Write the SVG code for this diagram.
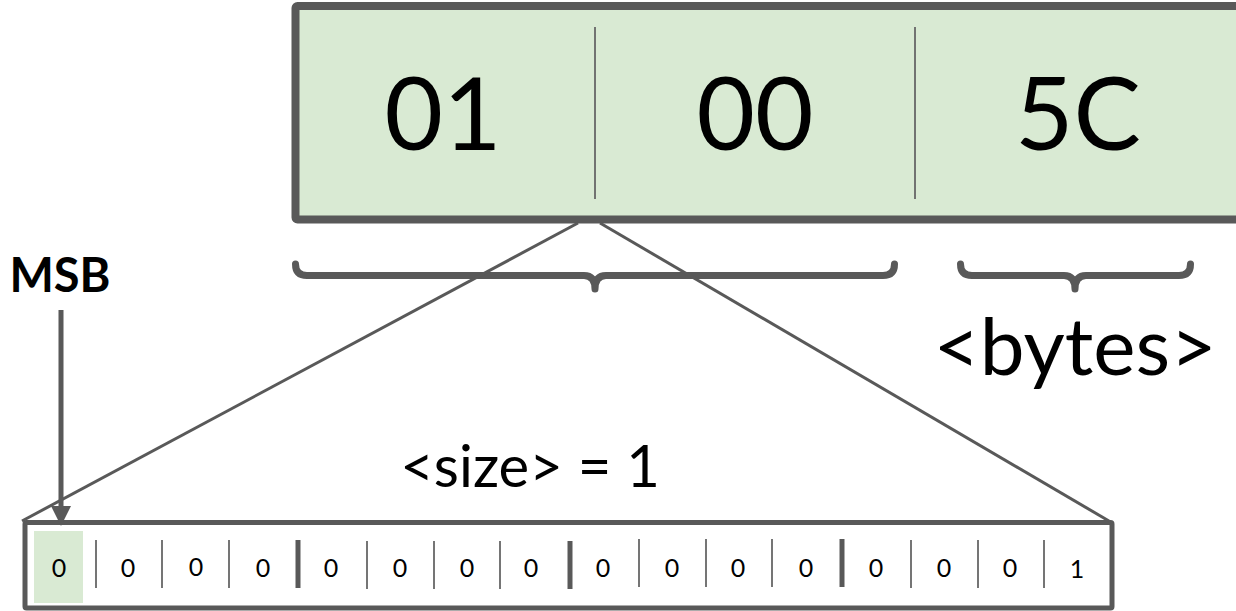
<svg xmlns="http://www.w3.org/2000/svg" width="1236" height="611" viewBox="0 0 1236 611">
<style>
.big{font-family:Lato,"Liberation Sans",sans-serif;font-size:101px;fill:#000;text-anchor:middle}
.bit{font-family:Lato,"Liberation Sans",sans-serif;font-size:25px;fill:#000;text-anchor:middle}
.lbl{font-family:Lato,"Liberation Sans",sans-serif;fill:#000}
.box{stroke:#595959;fill:none;stroke-linejoin:round}
.div{stroke:#666;stroke-width:1.8}
.thick{stroke:#595959;stroke-width:5}
.brace{stroke:#595959;stroke-width:7;fill:none;stroke-linecap:round;stroke-linejoin:round}
.conn{stroke:#595959;stroke-width:3;fill:none}
</style>
<defs>
<marker id="ah" markerWidth="4" markerHeight="4" refX="2" refY="2" orient="auto" markerUnits="strokeWidth" viewBox="0 0 4 4">
<path d="M0,0 L4,2 L0,4 Z" fill="#595959"/>
</marker>
</defs>
<g id="bytes-box">
<rect x="295.5" y="6" width="950" height="213.5" rx="2" fill="#d9ead3" stroke="#595959" stroke-width="8"/>
<line class="div" x1="595" y1="27" x2="595" y2="199"/>
<line class="div" x1="915" y1="27" x2="915" y2="199"/>
<text class="big" x="443" y="150">01</text>
<text class="big" x="755" y="150">00</text>
<text class="big" x="1078" y="150">5C</text>
</g>
<g id="brace-size">
<path class="brace" d="M295.5,264 Q295.5,275.5 307,275.5 L584,275.5 Q595,275.5 595,289 Q595,275.5 606,275.5 L883,275.5 Q894.5,275.5 894.5,264"/>
</g>
<g id="brace-bytes">
<path class="brace" d="M960.5,264 Q960.5,275.5 972,275.5 L1064,275.5 Q1075,275.5 1075,289 Q1075,275.5 1086,275.5 L1179,275.5 Q1190.5,275.5 1190.5,264"/>
</g>
<g id="label-bytes"><text class="lbl" x="1075" y="375" font-size="80" text-anchor="middle">&lt;bytes&gt;</text></g>
<g id="label-size"><text class="lbl" x="530" y="487" font-size="58" text-anchor="middle">&lt;size&gt; = 1</text></g>
<g id="label-msb"><text class="lbl" x="60" y="292" font-size="47" font-weight="bold" text-anchor="middle">MSB</text></g>
<g id="bits-box">
<rect x="34" y="531" width="49" height="72" fill="#d9ead3"/>
<rect class="box" x="25" y="522.5" width="1087" height="85.5" rx="1.5" stroke-width="5"/>
<line class="div" x1="96" y1="540" x2="96" y2="588"/>
<line class="div" x1="162" y1="540" x2="162" y2="588"/>
<line class="div" x1="229" y1="540" x2="229" y2="588"/>
<line class="thick" x1="298" y1="540" x2="298" y2="588"/>
<line class="div" x1="367" y1="541" x2="367" y2="589"/>
<line class="div" x1="434" y1="541" x2="434" y2="589"/>
<line class="div" x1="500" y1="541" x2="500" y2="589"/>
<line class="thick" x1="570" y1="541" x2="570" y2="589"/>
<line class="div" x1="639" y1="539" x2="639" y2="587"/>
<line class="div" x1="706" y1="539" x2="706" y2="587"/>
<line class="div" x1="772" y1="539" x2="772" y2="587"/>
<line class="thick" x1="842" y1="539" x2="842" y2="587"/>
<line class="div" x1="911" y1="540" x2="911" y2="588"/>
<line class="div" x1="978" y1="540" x2="978" y2="588"/>
<line class="div" x1="1044" y1="540" x2="1044" y2="588"/>
<text class="bit" x="59" y="577">0</text>
<text class="bit" x="128" y="577">0</text>
<text class="bit" x="196" y="576">0</text>
<text class="bit" x="263" y="577">0</text>
<text class="bit" x="331" y="577">0</text>
<text class="bit" x="400" y="577">0</text>
<text class="bit" x="467" y="577">0</text>
<text class="bit" x="531" y="577">0</text>
<text class="bit" x="603" y="577">0</text>
<text class="bit" x="672" y="577">0</text>
<text class="bit" x="738" y="577">0</text>
<text class="bit" x="806" y="577">0</text>
<text class="bit" x="876" y="577">0</text>
<text class="bit" x="944" y="577">0</text>
<text class="bit" x="1010" y="577">0</text>
<text class="bit" x="1077" y="578">1</text>
</g>
<g id="connectors">
<line class="conn" x1="578" y1="223" x2="22" y2="521"/>
<line class="conn" x1="600" y1="223" x2="1109" y2="521"/>
<line x1="61" y1="310" x2="61" y2="516" stroke="#595959" stroke-width="5" marker-end="url(#ah)"/>
</g>
</svg>
